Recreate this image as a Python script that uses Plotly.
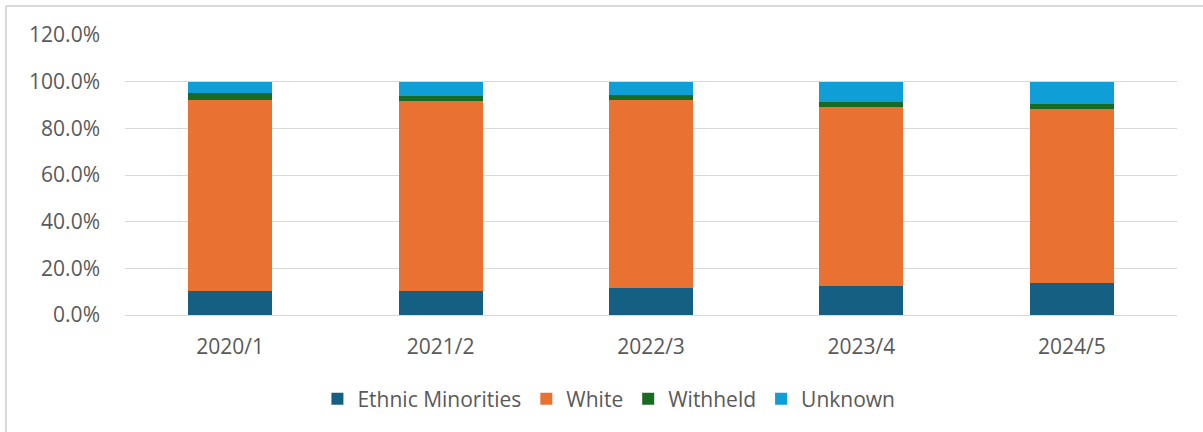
import plotly.graph_objects as go

years = ["2020/1", "2021/2", "2022/3", "2023/4", "2024/5"]
ethnic_minorities = [10.5, 10.3, 11.5, 12.6, 13.6]
white = [81.7, 81.5, 80.6, 76.4, 74.7]
withheld = [3.0, 2.1, 2.4, 2.3, 2.0]
unknown = [4.8, 6.1, 5.5, 8.7, 9.7]

y_ticks = [0, 20, 40, 60, 80, 100, 120]
y_tick_text = [f"{v:.1f}%" for v in y_ticks]

series = [
    ("Ethnic Minorities", ethnic_minorities, "#156082"),
    ("White", white, "#E97132"),
    ("Withheld", withheld, "#196B24"),
    ("Unknown", unknown, "#0F9ED5"),
]

font_family = "Open Sans, Lato, sans-serif"
text_color = "#595959"
font_size = 21

fig = go.Figure()
for name, vals, color in series:
    fig.add_trace(go.Bar(
        name=name, x=years, y=vals, marker=dict(color=color, line=dict(width=0)),
        hovertemplate="%{x}: %{y:.1f}%<extra>" + name + "</extra>",
    ))

fig.update_layout(
    barmode="stack",
    bargap=0.6,
    width=1203, height=432,
    margin=dict(l=125, r=26, t=35, b=117, autoexpand=False),
    paper_bgcolor="white", plot_bgcolor="white",
    font=dict(family=font_family, size=font_size, color=text_color),
    xaxis=dict(showgrid=False, showline=True, linecolor="#d9d9d9", linewidth=1,
               ticks="", ticklabelstandoff=13,
               tickfont=dict(size=font_size, color=text_color)),
    yaxis=dict(range=[0, 120], tickmode="array", tickvals=y_ticks,
               ticktext=y_tick_text, showgrid=True,
               gridcolor="#d9d9d9", gridwidth=1, zeroline=False,
               showline=False, ticks="", ticklabelstandoff=24,
               tickfont=dict(size=font_size, color=text_color)),
    legend=dict(orientation="h", x=0.46, xanchor="center", y=-0.227, yanchor="top",
                font=dict(size=font_size, color=text_color), traceorder="normal",
                itemwidth=30),
    showlegend=True,
)

# frame lines along the top and left edges of the chart
frame = dict(type="line", xref="paper", yref="paper",
             line=dict(color="#d9d9d9", width=2))
left_px, top_px = 6, 6
x_edge = (left_px - 125) / 1052
y_edge = 1 + (35 - top_px) / 280
fig.add_shape(**frame, x0=x_edge, x1=x_edge, y0=-117 / 280, y1=y_edge)
fig.add_shape(**frame, x0=x_edge, x1=1 + 26 / 1052, y0=y_edge, y1=y_edge)

fig.write_html("out.html")
